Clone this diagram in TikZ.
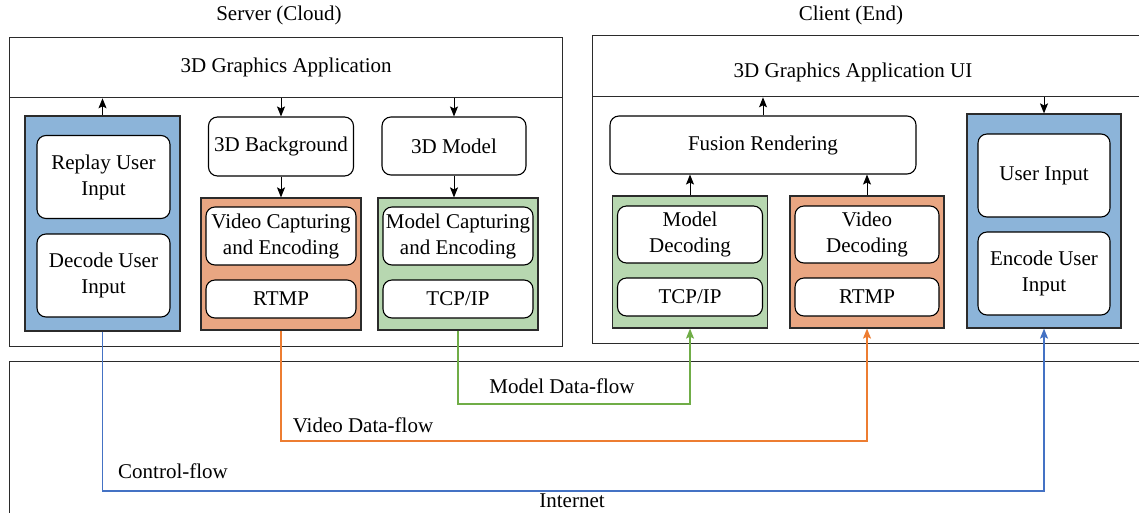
\documentclass[tikz,border=0pt]{standalone}
\usepackage{fontspec}
\setmainfont{Liberation Serif}
\usepackage{tikz}
\usetikzlibrary{arrows.meta,positioning,calc}
\definecolor{ink}{HTML}{2B2B2B}
\definecolor{fillblue}{HTML}{8CB4D9}
\definecolor{fillorange}{HTML}{E9A682}
\definecolor{fillgreen}{HTML}{B7D7B0}
\definecolor{lineblue}{HTML}{4472C4}
\definecolor{lineorange}{HTML}{ED7D31}
\definecolor{linegreen}{HTML}{70AD47}
\newcommand{\diagfont}{\fontsize{21}{26}\selectfont}
\tikzset{
  frame/.style={draw=ink,line width=1.3pt,anchor=north west,inner sep=0pt,font=\diagfont},
  group/.style={draw=ink,line width=1.2pt,inner sep=0pt},
  blk/.style={draw=black,line width=1.1pt,rounded corners=9pt,fill=white,align=center,
    inner sep=1pt,font=\diagfont},
  note/.style={font=\diagfont,inner sep=0pt},
  arr/.style={-{Stealth[length=10pt,width=8pt,inset=2pt]},line width=1pt,draw=black},
  flow/.style={-{Stealth[length=10pt,width=8pt,inset=2pt]},line width=1.2pt},
}

\begin{document}
\begin{tikzpicture}[x=1pt,y=-1pt]
  \clip (0,0) rectangle (1139,512);
  \fill[white] (0,0) rectangle (1139,512);

  \node[note] (srvtitle) at (279,15) {Server (Cloud)};
  \node[note] (clititle) at (851,15) {Client (End)};

  \node[frame,minimum width=553pt,minimum height=309pt] (server) at (9,37) {};
  \node[frame,minimum width=553pt,minimum height=60pt] (srvapp) at (9,37) {3D Graphics Application};
  \node[frame,minimum width=560pt,minimum height=308pt] (client) at (592,35) {};
  \node[frame,minimum width=560pt,minimum height=61pt] (cliapp) at (592,35) {};
  \node[note] (cliapptext) at (853,72) {3D Graphics Application UI};
  \node[frame,minimum width=1140pt,minimum height=156pt] (internet) at (9,361) {};

  % server side
  \node[group,fill=fillblue,minimum width=155pt,minimum height=215pt] (sctrl) at (102.5,223.5) {};
  \node[blk,minimum width=133pt,minimum height=83pt] (replay) at (103.5,177) {Replay User\\Input};
  \node[blk,minimum width=133pt,minimum height=83pt] (decode) at (103.5,275.5) {Decode User\\Input};
  \node[blk,minimum width=145pt,minimum height=59pt] (bg) at (281,146.5) {3D Background};
  \node[group,fill=fillorange,minimum width=160pt,minimum height=132pt] (svideo) at (281,264) {};
  \node[blk,minimum width=150pt,minimum height=58pt] (vcap) at (281,236) {Video Capturing\\and Encoding};
  \node[blk,minimum width=150pt,minimum height=38pt] (srtmp) at (281,299) {RTMP};
  \node[blk,minimum width=144pt,minimum height=58pt] (model) at (454,146) {3D Model};
  \node[group,fill=fillgreen,minimum width=160pt,minimum height=132pt] (smodel) at (458,264) {};
  \node[blk,minimum width=150pt,minimum height=58pt] (mcap) at (458,236) {Model Capturing\\and Encoding};
  \node[blk,minimum width=150pt,minimum height=38pt] (stcp) at (458,299) {TCP/IP};

  % client side
  \node[blk,minimum width=306pt,minimum height=58pt] (fusion) at (763,145) {Fusion Rendering};
  \node[group,fill=fillgreen,minimum width=155pt,minimum height=132pt] (cmodel) at (690,262) {};
  \node[blk,minimum width=145pt,minimum height=57pt] (mdec) at (690,234.5) {Model\\Decoding};
  \node[blk,minimum width=145pt,minimum height=38pt] (ctcp) at (690,297) {TCP/IP};
  \node[group,fill=fillorange,minimum width=154pt,minimum height=132pt] (cvideo) at (867,262) {};
  \node[blk,minimum width=144pt,minimum height=57pt] (vdec) at (867,234.5) {Video\\Decoding};
  \node[blk,minimum width=144pt,minimum height=38pt] (crtmp) at (867,297) {RTMP};
  \node[group,fill=fillblue,minimum width=154pt,minimum height=214pt] (cctrl) at (1044,221) {};
  \node[blk,minimum width=132pt,minimum height=83pt] (uinput) at (1044,175.5) {User Input};
  \node[blk,minimum width=132pt,minimum height=83pt] (encode) at (1044,273.5) {Encode User\\Input};

  \draw[arr] (sctrl.north) -- (sctrl.north |- srvapp.south);
  \draw[arr] (srvapp.south -| bg.north) -- (bg.north);
  \draw[arr] (bg.south) -- (svideo.north);
  \draw[arr] (srvapp.south -| model.north) -- (model.north);
  \draw[arr] (model.south) -- (model.south |- smodel.north);
  \draw[arr] (fusion.north) -- (fusion.north |- cliapp.south);
  \draw[arr] (cmodel.north) -- (cmodel.north |- fusion.south);
  \draw[arr] (cvideo.north) -- (cvideo.north |- fusion.south);
  \draw[arr] (cliapp.south -| cctrl.north) -- (cctrl.north);

  \coordinate (mrow) at (0,404);
  \coordinate (vrow) at (0,441);
  \coordinate (crow) at (0,491);
  \draw[flow,linegreen] (smodel.south) -- (smodel.south |- mrow) -| (cmodel.south);
  \draw[flow,lineorange] (svideo.south) -- (svideo.south |- vrow) -| (cvideo.south);
  \draw[flow,lineblue] (sctrl.south) -- (sctrl.south |- crow) -| (cctrl.south);

  \node[note] (mflow) at (562,386) {Model Data-flow};
  \node[note] (vflow) at (363,425) {Video Data-flow};
  \node[note] (cflow) at (173,471) {Control-flow};
  \node[note] (net) at (572,501) {Internet};
\end{tikzpicture}
\end{document}
